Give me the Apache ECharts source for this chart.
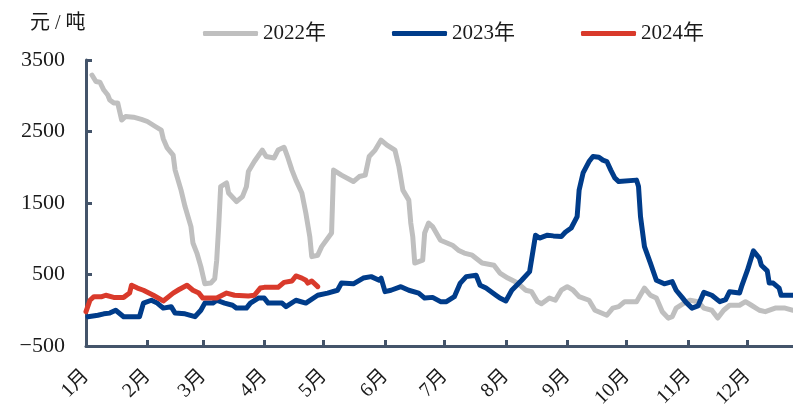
<!DOCTYPE html>
<html>
<head>
<meta charset="utf-8">
<script src="https://cdn.jsdelivr.net/npm/echarts@6/dist/echarts.min.js"></script>
<style>
  html, body { margin: 0; padding: 0; background: #fff; }
  #chart { width: 793px; height: 405px; }
</style>
</head>
<body>
<div id="chart"></div>
<script>
// Day of year (0 = 1 Jan) and price spread in 元/吨 for each year
const days2022 = [3, 5, 7, 9, 11, 12, 14, 16, 18, 20, 24, 28, 31, 35, 38, 39, 41, 44, 45, 48, 50, 53, 54, 56, 58, 60, 63, 65, 66, 67, 68, 71, 72, 76, 79, 81, 82, 85, 89, 90, 91, 95, 97, 100, 102, 104, 106, 109, 111, 113, 114, 117, 119, 124, 125, 129, 135, 138, 141, 143, 146, 149, 152, 156, 158, 160, 163, 164, 165, 166, 170, 171, 173, 175, 179, 185, 188, 191, 195, 200, 206, 209, 213, 218, 222, 225, 228, 230, 234, 237, 240, 243, 246, 249, 254, 257, 263, 266, 269, 272, 278, 282, 285, 288, 291, 294, 296, 298, 302, 305, 309, 312, 316, 319, 322, 325, 330, 333, 336, 340, 343, 348, 353, 357];
const vals2022 = [3290, 3200, 3190, 3080, 3010, 2940, 2900, 2900, 2660, 2710, 2700, 2670, 2640, 2570, 2520, 2400, 2270, 2170, 1960, 1680, 1450, 1170, 940, 800, 610, 370, 380, 440, 700, 1170, 1730, 1780, 1640, 1520, 1590, 1730, 1940, 2080, 2240, 2220, 2150, 2130, 2240, 2280, 2130, 1960, 1820, 1640, 1360, 1030, 750, 770, 890, 1080, 1960, 1890, 1800, 1870, 1890, 2150, 2240, 2380, 2310, 2240, 2010, 1680, 1540, 1220, 1030, 660, 700, 1080, 1220, 1170, 980, 910, 840, 800, 770, 660, 630, 520, 450, 380, 280, 260, 120, 90, 170, 140, 280, 330, 280, 190, 140, 0, -70, 30, 50, 120, 120, 310, 210, 170, -20, -110, -90, 30, 100, 140, 120, 30, 0, -110, 0, 70, 70, 120, 70, 0, -20, 30, 30, 0];

const days2023 = [1, 6, 9, 12, 15, 19, 27, 29, 33, 36, 39, 43, 45, 50, 55, 58, 60, 64, 66, 70, 74, 76, 81, 83, 87, 90, 92, 99, 101, 106, 111, 117, 122, 127, 129, 135, 140, 144, 148, 149, 151, 154, 159, 163, 168, 171, 175, 179, 182, 186, 189, 192, 197, 199, 202, 207, 209, 212, 215, 220, 224, 227, 229, 233, 236, 240, 242, 245, 248, 249, 251, 254, 256, 259, 261, 263, 265, 267, 269, 278, 279, 280, 282, 285, 288, 292, 296, 298, 301, 303, 306, 309, 312, 316, 320, 323, 325, 330, 331, 334, 337, 340, 341, 344, 345, 347, 350, 351, 357];
const vals2023 = [-90, -70, -50, -40, 0, -90, -90, 100, 140, 100, 30, 50, -40, -50, -90, 0, 100, 100, 140, 100, 70, 30, 30, 100, 170, 170, 100, 100, 50, 140, 100, 210, 240, 280, 380, 370, 450, 470, 420, 450, 260, 280, 330, 280, 240, 170, 180, 120, 120, 190, 380, 470, 490, 350, 310, 210, 170, 130, 280, 420, 540, 1050, 1010, 1050, 1040, 1030, 1090, 1150, 1310, 1680, 1920, 2080, 2150, 2140, 2100, 2080, 1960, 1850, 1800, 1820, 1730, 1310, 890, 660, 420, 370, 400, 280, 180, 110, 30, 60, 250, 210, 120, 150, 260, 240, 330, 560, 830, 730, 630, 550, 380, 380, 310, 210, 210];

const days2024 = [0, 2, 4, 8, 10, 14, 19, 22, 23, 26, 29, 34, 39, 44, 47, 51, 54, 57, 59, 63, 66, 71, 75, 82, 85, 88, 90, 97, 100, 104, 106, 109, 111, 112, 114, 117];
const vals2024 = [-20, 140, 190, 190, 210, 180, 180, 240, 350, 310, 280, 210, 130, 240, 290, 350, 280, 240, 170, 170, 170, 240, 210, 200, 210, 310, 320, 320, 390, 410, 480, 450, 420, 380, 410, 330];

// Month boundaries (day of year) and their labels
const monthStarts = [0, 31, 59, 90, 120, 151, 181, 212, 243, 273, 304, 334];
const monthLabels = ['1月', '2月', '3月', '4月', '5月', '6月', '7月', '8月', '9月', '10月', '11月', '12月'];

const yTicks = [-500, 500, 1500, 2500, 3500];

const pair = (d, v) => d.map((x, i) => [x, v[i]]);

const axisColor = '#44546A';
const textColor = '#1a1a1a';
const serif = 'Liberation Serif, Noto Sans CJK SC, serif';

const chart = echarts.init(document.getElementById('chart'), null, { renderer: 'canvas' });

chart.setOption({
  animation: false,
  backgroundColor: '#ffffff',
  textStyle: { fontFamily: serif, color: textColor },
  graphic: [{
    type: 'text',
    left: 30,
    top: 14,
    style: { text: '元 / 吨', fontFamily: serif, fontSize: 20, fill: textColor }
  }],
  legend: {
    top: 23,
    left: 203,
    padding: 0,
    itemWidth: 55,
    itemHeight: 5,
    itemGap: 66,
    icon: 'roundRect',
    textStyle: { fontFamily: serif, fontSize: 21, color: textColor },
    data: ['2022年', '2023年', '2024年']
  },
  grid: { left: 86, right: 0, top: 60, bottom: 59, containLabel: false, outerBoundsMode: 'none' },
  xAxis: {
    type: 'value',
    min: 0,
    max: 357,
    axisLine: { show: true, onZero: false, lineStyle: { color: axisColor, width: 3 } },
    axisTick: { show: true, inside: true, length: 6, customValues: monthStarts, lineStyle: { color: axisColor, width: 3 } },
    axisLabel: {
      customValues: monthStarts,
      rotate: 45,
      margin: 27,
      fontFamily: serif,
      fontSize: 20,
      color: textColor,
      formatter: v => monthLabels[monthStarts.indexOf(Math.round(v))] || ''
    },
    splitLine: { show: false }
  },
  yAxis: {
    type: 'value',
    min: -500,
    max: 3500,
    axisLine: { show: true, lineStyle: { color: axisColor, width: 3 } },
    axisTick: { show: true, inside: true, length: 6, customValues: yTicks, lineStyle: { color: axisColor, width: 3 } },
    axisLabel: {
      customValues: yTicks,
      margin: 21,
      fontFamily: serif,
      fontSize: 22,
      color: textColor,
      formatter: v => (v < 0 ? '\u2212' + Math.abs(v) : String(v))
    },
    splitLine: { show: false }
  },
  series: [
    {
      name: '2022年', type: 'line', data: pair(days2022, vals2022),
      showSymbol: false, symbol: 'none',
      lineStyle: { color: '#BFBFBF', width: 5, join: 'round', cap: 'round' },
      itemStyle: { color: '#BFBFBF' }
    },
    {
      name: '2023年', type: 'line', data: pair(days2023, vals2023),
      showSymbol: false, symbol: 'none',
      lineStyle: { color: '#003C8A', width: 5, join: 'round', cap: 'round' },
      itemStyle: { color: '#003C8A' }
    },
    {
      name: '2024年', type: 'line', data: pair(days2024, vals2024),
      showSymbol: false, symbol: 'none',
      lineStyle: { color: '#D93A2B', width: 5, join: 'round', cap: 'round' },
      itemStyle: { color: '#D93A2B' }
    }
  ]
});
</script>
</body>
</html>
